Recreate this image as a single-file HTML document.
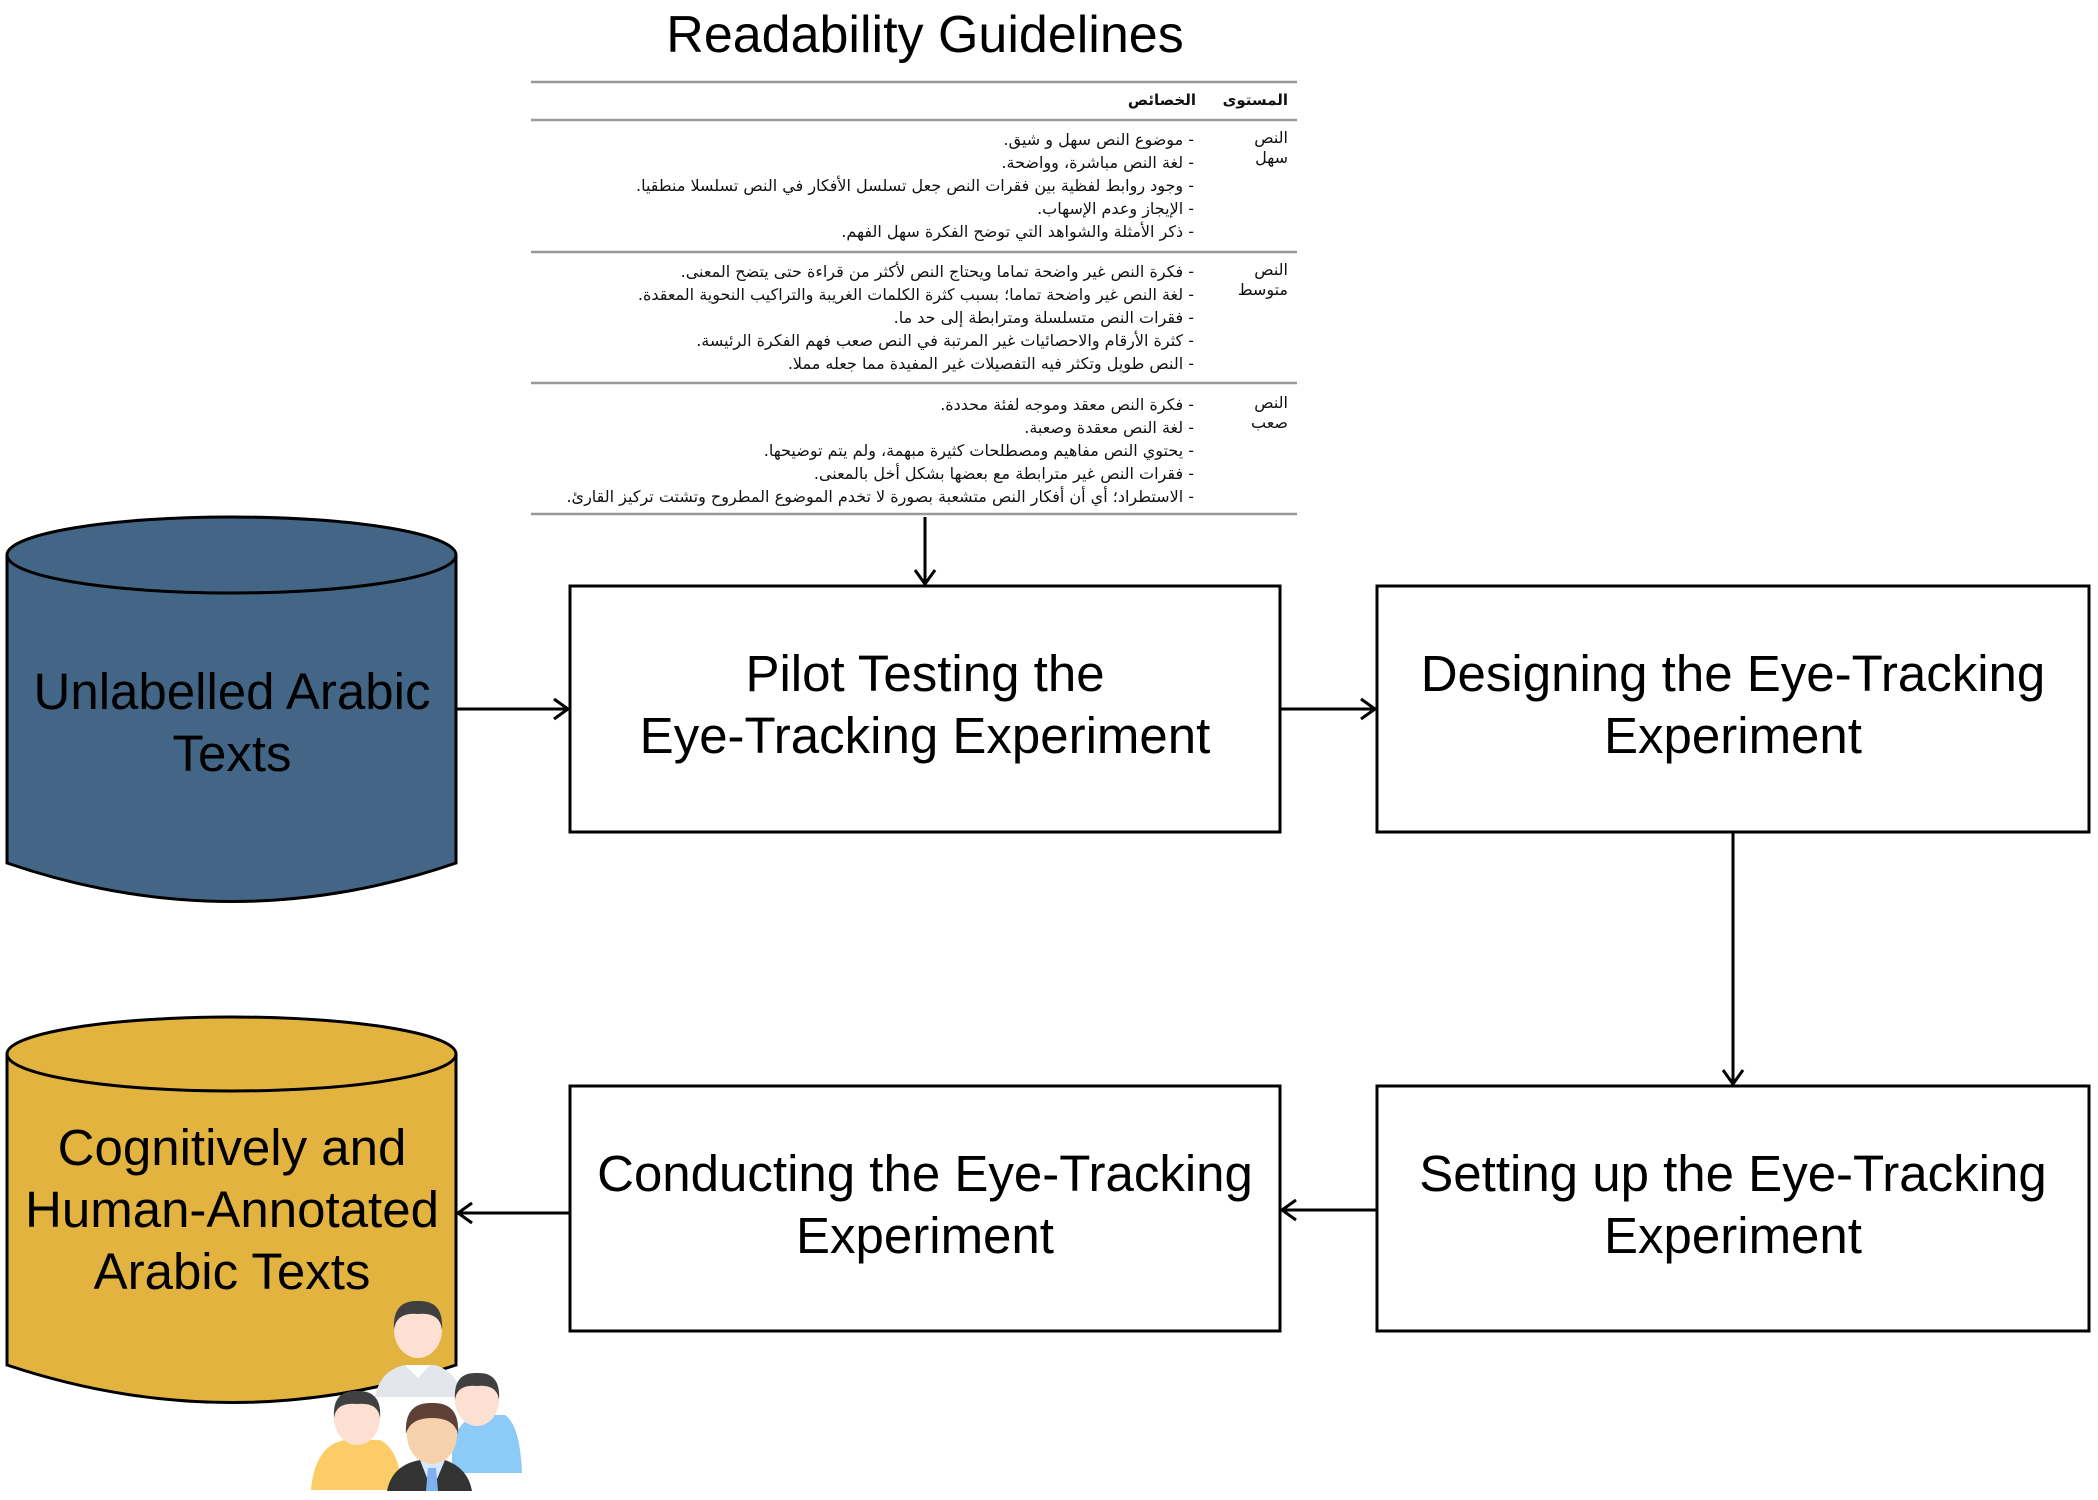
<!DOCTYPE html>
<html><head><meta charset="utf-8"><style>
html,body{margin:0;padding:0;background:#fff}
body{position:relative;width:2098px;height:1500px;overflow:hidden}
svg{display:block;position:absolute;left:0;top:0}
.t{font-family:"Liberation Sans",sans-serif;font-size:51px;fill:#000;text-anchor:middle}
.a{position:absolute;direction:rtl;white-space:nowrap;font-family:"DejaVu Sans",sans-serif;font-size:16px;line-height:20px;color:#111;text-align:right}
.b{font-weight:bold;font-size:15px}
</style></head><body>
<svg width="2098" height="1500" viewBox="0 0 2098 1500" xmlns="http://www.w3.org/2000/svg">
<text x="925" y="52" class="t" style="font-size:52px">Readability Guidelines</text>
<g stroke="#999" stroke-width="2.5">
<line x1="531" y1="82" x2="1297" y2="82"/>
<line x1="531" y1="120" x2="1297" y2="120"/>
<line x1="531" y1="252" x2="1297" y2="252"/>
<line x1="531" y1="383" x2="1297" y2="383"/>
<line x1="531" y1="514" x2="1297" y2="514"/>
</g>

<!-- cylinder 1 -->
<path d="M7,555 L7,863 Q232,940 456,863 L456,555 Z" fill="#436586" stroke="#000" stroke-width="3"/>
<ellipse cx="231.5" cy="555" rx="224.5" ry="38" fill="#436586" stroke="#000" stroke-width="3"/>
<text x="232" y="709" class="t">Unlabelled Arabic</text>
<text x="232" y="771" class="t">Texts</text>

<!-- cylinder 2 -->
<path d="M7,1054 L7,1365 Q232,1440 456,1365 L456,1054 Z" fill="#e2b43f" stroke="#000" stroke-width="3"/>
<ellipse cx="231.5" cy="1054" rx="224.5" ry="37" fill="#e2b43f" stroke="#000" stroke-width="3"/>
<text x="232" y="1165" class="t">Cognitively and</text>
<text x="232" y="1227" class="t">Human-Annotated</text>
<text x="232" y="1289" class="t">Arabic Texts</text>

<!-- boxes -->
<g fill="#fff" stroke="#000" stroke-width="3">
<rect x="570" y="586" width="710" height="246"/>
<rect x="1377" y="586" width="712" height="246"/>
<rect x="570" y="1086" width="710" height="245"/>
<rect x="1377" y="1086" width="712" height="245"/>
</g>
<text x="925" y="691" class="t">Pilot Testing the</text>
<text x="925" y="753" class="t">Eye-Tracking Experiment</text>
<text x="1733" y="691" class="t">Designing the Eye-Tracking</text>
<text x="1733" y="753" class="t">Experiment</text>
<text x="925" y="1191" class="t">Conducting the Eye-Tracking</text>
<text x="925" y="1253" class="t">Experiment</text>
<text x="1733" y="1191" class="t">Setting up the Eye-Tracking</text>
<text x="1733" y="1253" class="t">Experiment</text>

<!-- arrows -->
<g stroke="#000" stroke-width="3" fill="none">
<line x1="925" y1="517" x2="925" y2="584"/><polyline points="915,570 925,584 935,570"/>
<line x1="456" y1="709" x2="568" y2="709"/><polyline points="554,699 568,709 554,719"/>
<line x1="1280" y1="709" x2="1375" y2="709"/><polyline points="1361,699 1375,709 1361,719"/>
<line x1="1733" y1="832" x2="1733" y2="1084"/><polyline points="1723,1070 1733,1084 1743,1070"/>
<line x1="1377" y1="1210" x2="1282" y2="1210"/><polyline points="1296,1200 1282,1210 1296,1220"/>
<line x1="570" y1="1213" x2="458" y2="1213"/><polyline points="472,1203 458,1213 472,1223"/>
</g>

<!-- people -->
<g>
<path d="M375,1397 Q380,1370 405,1365 L435,1365 Q458,1372 462,1397 Z" fill="#e3e6ea"/>
<path d="M405,1365 L418,1378 L430,1365" fill="#fff"/>
<ellipse cx="418" cy="1330" rx="24" ry="28" fill="#fde0d2"/>
<path d="M394,1330 Q392,1300 418,1301 Q444,1300 442,1330 Q440,1312 418,1314 Q396,1312 394,1330Z" fill="#404040"/>
<path d="M452,1450 Q455,1420 480,1415 L505,1415 Q520,1425 522,1473 L452,1473Z" fill="#8ccaf8"/>
<ellipse cx="477" cy="1400" rx="22" ry="26" fill="#fde0d2"/>
<path d="M455,1400 Q453,1372 477,1373 Q501,1372 499,1400 Q497,1384 477,1386 Q457,1384 455,1400Z" fill="#404040"/>
<path d="M311,1490 Q315,1445 345,1440 L380,1440 Q400,1450 402,1490Z" fill="#fccc66"/>
<ellipse cx="357" cy="1418" rx="23" ry="27" fill="#fde0d2"/>
<path d="M334,1418 Q332,1390 357,1391 Q382,1390 380,1418 Q378,1402 357,1404 Q336,1402 334,1418Z" fill="#404040"/>
<path d="M387,1491 Q392,1465 420,1460 L445,1460 Q468,1468 472,1491Z" fill="#333"/>
<path d="M420,1460 L432,1491 L445,1460Z" fill="#d6e8ff"/>
<path d="M428,1468 L436,1468 L438,1491 L426,1491Z" fill="#7fb0f0"/>
<ellipse cx="432" cy="1435" rx="25" ry="29" fill="#f5d2ab"/>
<path d="M406,1434 Q404,1402 432,1403 Q460,1402 458,1434 Q454,1418 432,1418 Q410,1418 406,1434Z" fill="#5e4036"/>
</g>
</svg>

<div class="a b" style="right:810px;top:90px">المستوى</div>
<div class="a b" style="right:902px;top:90px">الخصائص</div>

<div class="a" style="right:810px;top:128px">النص<br>سهل</div>
<div class="a" style="right:810px;top:260px">النص<br>متوسط</div>
<div class="a" style="right:810px;top:393px">النص<br>صعب</div>

<div class="a" style="right:904px;top:128px;line-height:23px">
- موضوع النص سهل و شيق.<br>
-  لغة النص مباشرة، وواضحة.<br>
- وجود روابط لفظية بين فقرات النص جعل تسلسل الأفكار في النص تسلسلا منطقيا.<br>
-  الإيجاز وعدم الإسهاب.<br>
- ذكر الأمثلة والشواهد التي توضح الفكرة سهل الفهم.</div>
<div class="a" style="right:904px;top:260px;line-height:23px">
- فكرة النص غير واضحة تماما ويحتاج النص لأكثر من قراءة حتى يتضح المعنى.<br>
- لغة النص غير واضحة تماما؛ بسبب كثرة الكلمات الغريبة والتراكيب النحوية المعقدة.<br>
- فقرات النص متسلسلة ومترابطة إلى حد ما.<br>
- كثرة الأرقام والاحصائيات غير المرتبة في النص صعب فهم الفكرة الرئيسة.<br>
- النص طويل وتكثر فيه التفصيلات غير المفيدة مما جعله مملا.</div>
<div class="a" style="right:904px;top:393px;line-height:23px">
- فكرة النص معقد وموجه لفئة محددة.<br>
- لغة النص معقدة وصعبة.<br>
- يحتوي النص مفاهيم ومصطلحات كثيرة مبهمة، ولم يتم توضيحها.<br>
- فقرات النص غير مترابطة مع بعضها بشكل أخل بالمعنى.<br>
- الاستطراد؛ أي أن أفكار النص متشعبة بصورة لا تخدم الموضوع المطروح وتشتت تركيز القارئ.</div>
</body></html>
